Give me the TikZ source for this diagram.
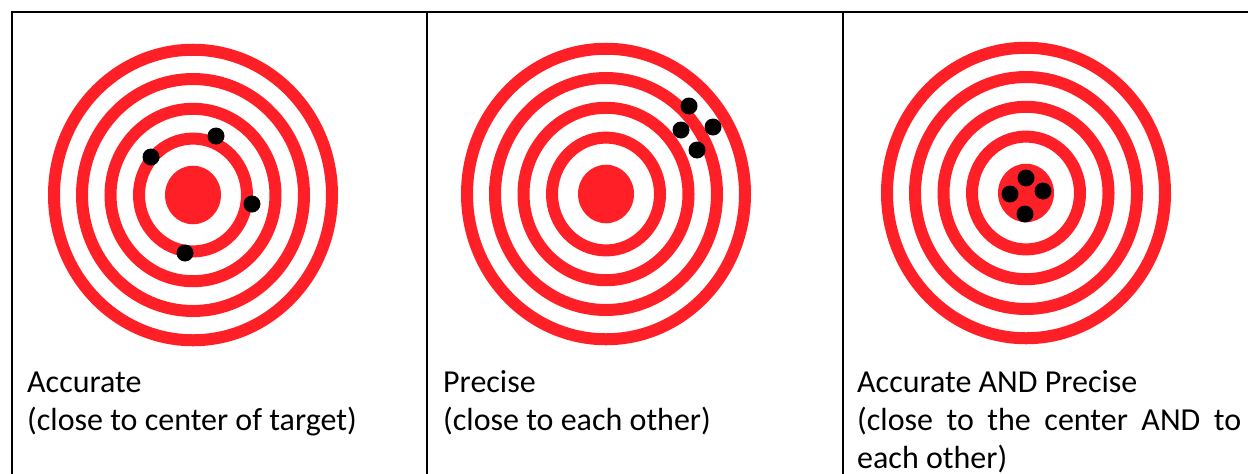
\documentclass[tikz,border=0pt]{standalone}
\usepackage{fontspec}
\setmainfont{Carlito}
\usetikzlibrary{positioning}
\definecolor{tred}{HTML}{FF1F27}
\tikzset{
  ring/.style={draw=tred, line width=12pt},
  bull/.style={fill=tred},
  hit/.style={circle, fill=black, inner sep=0pt, minimum size=17pt},
  rule/.style={draw=black, line width=2pt},
  cell/.style={anchor=base west, inner sep=0pt, text width=384pt,
               align=flush left, font=\fontsize{32}{38}\selectfont},
}

\begin{document}
\begin{tikzpicture}[x=1pt, y=-1pt]
  \useasboundingbox[fill=white] (0,0) rectangle (1248,474);
  % table rules
  \draw[rule] (11,12) -- (1248,12);
  \foreach \x in {12,427,843}
    \draw[rule] (\x,12) -- (\x,474);
  % targets
  \foreach \cx/\cy in {193/195, 606/194, 1026/193} {
    \begin{scope}[shift={(\cx,\cy)}, yscale=1.045]
      \foreach \r in {139,111,82.5,54}
        \draw[ring] (0,0) circle (\r);
      \fill[bull] (0,0) circle (28);
    \end{scope}
  }
  % hits
  \node[hit] (a1) at (151,157) {};
  \node[hit] (a2) at (216,136) {};
  \node[hit] (a3) at (252,204) {};
  \node[hit] (a4) at (185,253) {};
  \node[hit] (p1) at (689,106) {};
  \node[hit] (p2) at (681,130) {};
  \node[hit] (p3) at (713,127) {};
  \node[hit] (p4) at (697,150) {};
  \node[hit] (b1) at (1026,178) {};
  \node[hit] (b2) at (1010,194) {};
  \node[hit] (b3) at (1043,191) {};
  \node[hit] (b4) at (1025,214) {};
  % captions
  \node[cell] (acc) at (27,392) {Accurate\\(close to center of target)};
  \node[cell] (prec) at (443,392) {Precise\\(close to each other)};
  \node[cell, align=justify] (both) at (857,392)
    {Accurate AND Precise\\(close to the center AND to each other)};
\end{tikzpicture}
\end{document}
